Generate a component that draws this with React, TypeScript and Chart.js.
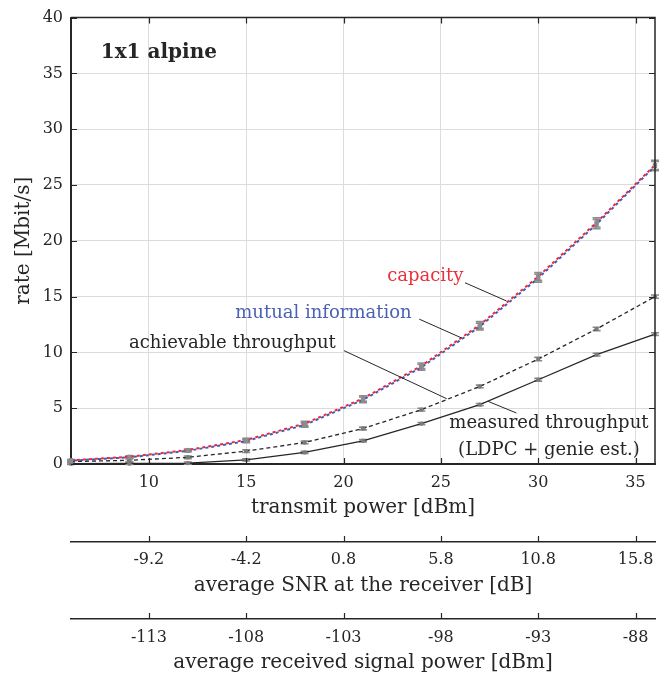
import React, { useEffect, useRef } from 'react';
import { Chart, registerables } from 'chart.js';
Chart.register(...registerables);

// transmit power [dBm]
const power = [6, 9, 12, 15, 18, 21, 24, 27, 30, 33, 36];
// rates [Mbit/s]
const capacity = [0.33, 0.65, 1.25, 2.16, 3.62, 5.87, 8.8, 12.47, 16.8, 21.65, 26.8];
const capacityErr = [0.06, 0.08, 0.1, 0.15, 0.2, 0.25, 0.25, 0.3, 0.35, 0.42, 0.42];
const mutualInfo = [0.3, 0.6, 1.18, 2.06, 3.5, 5.75, 8.66, 12.32, 16.65, 21.5, 26.7];
const mutualInfoErr = [0.06, 0.08, 0.1, 0.15, 0.2, 0.25, 0.25, 0.3, 0.35, 0.42, 0.42];
const achievable = [0.22, 0.33, 0.6, 1.15, 1.93, 3.18, 4.87, 6.95, 9.4, 12.1, 15.0];
const achievableErr = [0.1, 0.12, 0.12, 0.12, 0.12, 0.12, 0.12, 0.12, 0.15, 0.15, 0.15];
const measured = [0.03, 0.05, 0.08, 0.37, 1.04, 2.08, 3.62, 5.32, 7.55, 9.8, 11.64];
const measuredErr = [0.08, 0.1, 0.1, 0.1, 0.1, 0.1, 0.1, 0.1, 0.12, 0.12, 0.12];

const powerTicks = [10, 15, 20, 25, 30, 35];
const snrTicks = [-9.2, -4.2, 0.8, 5.8, 10.8, 15.8];
const rspTicks = [-113, -108, -103, -98, -93, -88];
const rateTicks = [0, 5, 10, 15, 20, 25, 30, 35, 40];

const powerMin = 6;
const powerMax = 36;
const snrOffset = snrTicks[0] - powerTicks[0];
const rspOffset = rspTicks[0] - powerTicks[0];

// annotation texts (data coordinates)
const labels = [
  { text: 'capacity', x: 24.2, y: 16.8, color: '#e8303c' },
  { text: 'mutual information', x: 18.97, y: 13.5, color: '#4a62b4' },
  { text: 'achievable throughput', x: 14.29, y: 10.81, color: '#262626' },
  { text: 'measured throughput', x: 30.55, y: 3.63, color: '#262626' },
  { text: '(LDPC + genie est.)', x: 30.55, y: 1.25, color: '#262626' },
];
const leaders = [
  { x1: 26.24, y1: 16.24, x2: 28.37, y2: 14.61 },
  { x1: 23.89, y1: 12.98, x2: 26.07, y2: 11.29 },
  { x1: 20.02, y1: 10.16, x2: 25.3, y2: 5.85 },
  { x1: 27.43, y1: 5.61, x2: 28.88, y2: 4.57 },
];
const panelTitle = { text: '1x1 alpine', x: 7.53, y: 36.88 };

const INK = '#262626';
const SERIF = '"DejaVu Serif", serif';

const toXY = (ys: number[]) => power.map((p, i) => ({ x: p, y: ys[i] }));

const decor = {
  id: 'decor',
  beforeDatasetsDraw(chart: any) {
    const { ctx } = chart;
    const xs = chart.scales.x;
    const ys = chart.scales.y;
    chart.data.datasets.forEach((ds: any) => {
      if (!ds.errors) return;
      ctx.save();
      ctx.strokeStyle = '#8c8c8c';
      ctx.lineWidth = 1.6;
      ds.data.forEach((pt: any, i: number) => {
        const px = xs.getPixelForValue(pt.x);
        const e = ds.errors[i];
        const y1 = ys.getPixelForValue(pt.y - e);
        const y2 = ys.getPixelForValue(pt.y + e);
        ctx.beginPath();
        ctx.moveTo(px, y1);
        ctx.lineTo(px, y2);
        ctx.moveTo(px - 4, y1);
        ctx.lineTo(px + 4, y1);
        ctx.moveTo(px - 4, y2);
        ctx.lineTo(px + 4, y2);
        ctx.stroke();
      });
      ctx.restore();
    });
  },
  afterDraw(chart: any) {
    const { ctx, chartArea: a } = chart;
    const xs = chart.scales.x;
    const ys = chart.scales.y;
    ctx.save();
    // top and right frame
    ctx.strokeStyle = INK;
    ctx.lineWidth = 1.5;
    ctx.beginPath();
    ctx.moveTo(a.left, a.top);
    ctx.lineTo(a.right, a.top);
    ctx.lineTo(a.right, a.bottom);
    ctx.stroke();
    // inward ticks
    ctx.lineWidth = 1.2;
    ctx.beginPath();
    xs.ticks.forEach((t: any) => {
      const px = Math.round(xs.getPixelForValue(t.value)) + 0.5;
      ctx.moveTo(px, a.bottom);
      ctx.lineTo(px, a.bottom - 6);
      ctx.moveTo(px, a.top);
      ctx.lineTo(px, a.top + 6);
    });
    ys.ticks.forEach((t: any) => {
      const py = Math.round(ys.getPixelForValue(t.value)) + 0.5;
      ctx.moveTo(a.left, py);
      ctx.lineTo(a.left + 6, py);
      ctx.moveTo(a.right, py);
      ctx.lineTo(a.right - 6, py);
    });
    ctx.stroke();
    // secondary axes ticks (upward)
    ['snr', 'rsp'].forEach((id) => {
      const s = chart.scales[id];
      ctx.beginPath();
      s.ticks.forEach((t: any) => {
        const px = Math.round(s.getPixelForValue(t.value)) + 0.5;
        ctx.moveTo(px, s.top);
        ctx.lineTo(px, s.top - 6);
      });
      ctx.stroke();
    });
    // leader lines
    ctx.lineWidth = 1;
    ctx.strokeStyle = INK;
    leaders.forEach((l) => {
      ctx.beginPath();
      ctx.moveTo(xs.getPixelForValue(l.x1), ys.getPixelForValue(l.y1));
      ctx.lineTo(xs.getPixelForValue(l.x2), ys.getPixelForValue(l.y2));
      ctx.stroke();
    });
    // labels
    ctx.font = '18px ' + SERIF;
    ctx.textAlign = 'center';
    ctx.textBaseline = 'middle';
    labels.forEach((l) => {
      ctx.fillStyle = l.color;
      ctx.fillText(l.text, xs.getPixelForValue(l.x), ys.getPixelForValue(l.y));
    });
    ctx.font = 'bold 20px ' + SERIF;
    ctx.textAlign = 'left';
    ctx.fillStyle = INK;
    ctx.fillText(panelTitle.text, xs.getPixelForValue(panelTitle.x), ys.getPixelForValue(panelTitle.y));
    ctx.restore();
  },
};

const fitH = (h: number) => (s: any) => {
  s.height = h;
  s.paddingLeft = 0;
  s.paddingRight = 0;
};

export default function App() {
  const ref = useRef<HTMLCanvasElement | null>(null);
  useEffect(() => {
    document.body.style.margin = '0';
    document.body.style.overflow = 'hidden';
    const tickFont = { family: SERIF, size: 16 };
    const titleFont = { family: SERIF, size: 20 };
    const chart = new Chart(ref.current as HTMLCanvasElement, {
      type: 'line',
      data: {
        datasets: [
          {
            label: 'capacity',
            data: toXY(capacity),
            errors: capacityErr,
            borderColor: '#ea2a3c',
            borderWidth: 2,
            borderDash: [3, 3],
            pointStyle: 'rect',
            pointRadius: 3,
            pointBackgroundColor: '#8c8c8c',
            pointBorderWidth: 0,
            tension: 0,
          } as any,
          {
            label: 'mutual information',
            data: toXY(mutualInfo),
            errors: mutualInfoErr,
            borderColor: '#3d5db8',
            borderWidth: 2,
            borderDash: [3, 3],
            borderDashOffset: 3,
            pointStyle: 'rect',
            pointRadius: 3,
            pointBackgroundColor: '#8c8c8c',
            pointBorderWidth: 0,
            tension: 0,
          } as any,
          {
            label: 'achievable throughput',
            data: toXY(achievable),
            errors: achievableErr,
            borderColor: INK,
            borderWidth: 1.3,
            borderDash: [4, 3],
            pointStyle: 'circle',
            pointRadius: 2.2,
            pointBackgroundColor: '#7a7a7a',
            pointBorderWidth: 0,
            tension: 0,
          } as any,
          {
            label: 'measured throughput',
            data: toXY(measured),
            errors: measuredErr,
            borderColor: INK,
            borderWidth: 1.3,
            pointStyle: 'circle',
            pointRadius: 2.2,
            pointBackgroundColor: '#7a7a7a',
            pointBorderWidth: 0,
            tension: 0,
          } as any,
        ],
      },
      options: {
        animation: false,
        responsive: true,
        maintainAspectRatio: false,
        clip: false as any,
        layout: { padding: { left: 0, right: 0, top: 15, bottom: 0 } },
        plugins: { legend: { display: false }, tooltip: { enabled: false } },
        scales: {
          x: {
            type: 'linear',
            position: 'bottom',
            min: powerMin,
            max: powerMax,
            afterBuildTicks: (s: any) => {
              s.ticks = powerTicks.map((v) => ({ value: v }));
            },
            afterFit: fitH(78),
            grid: { color: '#dcdcdc', lineWidth: 1, drawTicks: false },
            border: { display: true, color: INK, width: 2 },
            ticks: { color: INK, font: tickFont, padding: 9.4, maxRotation: 0, callback: (v: any) => String(v) },
            title: { display: true, text: 'transmit power [dBm]', color: INK, font: titleFont, padding: { top: 0, bottom: 22.5 } },
          },
          snr: {
            type: 'linear',
            position: 'bottom',
            weight: 1,
            min: powerMin + snrOffset,
            max: powerMax + snrOffset,
            afterBuildTicks: (s: any) => {
              s.ticks = snrTicks.map((v) => ({ value: v }));
            },
            afterFit: fitH(77),
            grid: { display: false, drawTicks: false },
            border: { display: true, color: INK, width: 1.5 },
            ticks: { color: INK, font: tickFont, padding: 8.4, maxRotation: 0, callback: (v: any) => Number(v).toFixed(1) },
            title: { display: true, text: 'average SNR at the receiver [dB]', color: INK, font: titleFont, padding: { top: 0, bottom: 21 } },
          },
          rsp: {
            type: 'linear',
            position: 'bottom',
            weight: 2,
            min: powerMin + rspOffset,
            max: powerMax + rspOffset,
            afterBuildTicks: (s: any) => {
              s.ticks = rspTicks.map((v) => ({ value: v }));
            },
            afterFit: fitH(58),
            grid: { display: false, drawTicks: false },
            border: { display: true, color: INK, width: 1.5 },
            ticks: { color: INK, font: tickFont, padding: 9.4, maxRotation: 0, callback: (v: any) => String(Math.round(Number(v))) },
            title: { display: true, text: 'average received signal power [dBm]', color: INK, font: titleFont, padding: { top: 0, bottom: 2 } },
          },
          y: {
            type: 'linear',
            min: 0,
            max: 40,
            afterBuildTicks: (s: any) => {
              s.ticks = rateTicks.map((v) => ({ value: v }));
            },
            afterFit: (s: any) => {
              s.width = 71;
            },
            grid: { color: '#dcdcdc', lineWidth: 1, drawTicks: false },
            border: { display: true, color: INK, width: 2 },
            ticks: { color: INK, font: tickFont, padding: 8, callback: (v: any) => String(v) },
            title: { display: true, text: 'rate [Mbit/s]', color: INK, font: titleFont, padding: { top: 12, bottom: 0 } },
          },
        },
      } as any,
      plugins: [decor],
    });
    return () => chart.destroy();
  }, []);
  return (
    <div style={{ position: 'relative', width: 659, height: 677 }}>
      <canvas ref={ref} />
    </div>
  );
}
